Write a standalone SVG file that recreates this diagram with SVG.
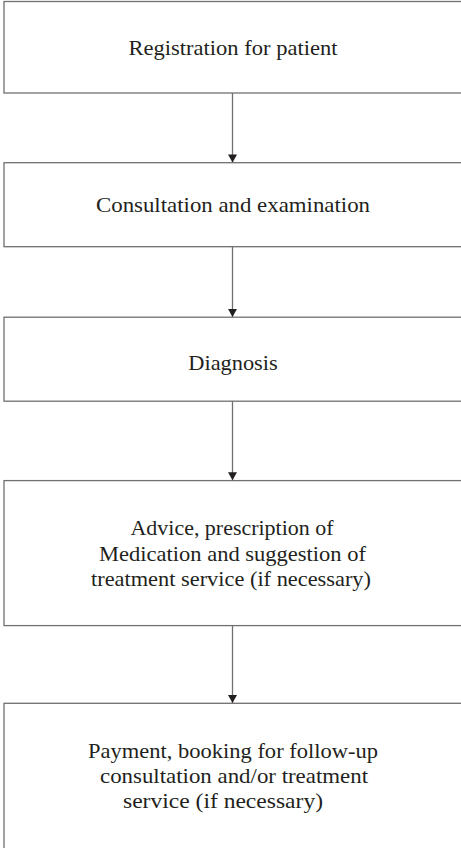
<svg xmlns="http://www.w3.org/2000/svg" width="461" height="848" viewBox="0 0 461 848">
  <style>
    .box { fill: #ffffff; stroke: #707070; stroke-width: 1.3; }
    .lbl { font-family: "Liberation Serif", "Times New Roman", serif; font-size: 21px; fill: #231f20; text-anchor: middle; }
    .conn { stroke: #707070; stroke-width: 1.3; fill: none; }
  </style>
  <defs>
    <marker id="arr" markerUnits="userSpaceOnUse" markerWidth="10" markerHeight="10" refX="8" refY="4.5" orient="auto">
      <path d="M0,0 L8,4.5 L0,9 Z" fill="#231f20"/>
    </marker>
  </defs>
  <rect width="461" height="848" fill="#ffffff"/>
  <g id="n1">
    <rect class="box" x="4" y="1.5" width="470" height="91.5"/>
    <text class="lbl" x="233" y="54.5" textLength="209" lengthAdjust="spacingAndGlyphs">Registration for patient</text>
  </g>
  <g id="n2">
    <rect class="box" x="4" y="162.7" width="470" height="84"/>
    <text class="lbl" x="233" y="212" textLength="274" lengthAdjust="spacingAndGlyphs">Consultation and examination</text>
  </g>
  <g id="n3">
    <rect class="box" x="4" y="317.2" width="470" height="84"/>
    <text class="lbl" x="233" y="370" textLength="89.5" lengthAdjust="spacingAndGlyphs">Diagnosis</text>
  </g>
  <g id="n4">
    <rect class="box" x="4" y="480.6" width="470" height="145"/>
    <text class="lbl" x="232" y="535" textLength="203" lengthAdjust="spacingAndGlyphs">Advice, prescription of</text>
    <text class="lbl" x="232.5" y="560.5" textLength="267" lengthAdjust="spacingAndGlyphs">Medication and suggestion of</text>
    <text class="lbl" x="231" y="585.5" textLength="280" lengthAdjust="spacingAndGlyphs">treatment service (if necessary)</text>
  </g>
  <g id="n5">
    <rect class="box" x="4" y="703.3" width="470" height="160"/>
    <text class="lbl" x="233" y="758.3" textLength="290" lengthAdjust="spacingAndGlyphs">Payment, booking for follow-up</text>
    <text class="lbl" x="234" y="783.3" textLength="268" lengthAdjust="spacingAndGlyphs">consultation and/or treatment</text>
    <text class="lbl" x="223" y="808.3" textLength="200" lengthAdjust="spacingAndGlyphs">service (if necessary)</text>
  </g>
  <g id="connectors">
    <line class="conn" x1="232.5" y1="93" x2="232.5" y2="162.4" marker-end="url(#arr)"/>
    <line class="conn" x1="232.5" y1="246.7" x2="232.5" y2="316.9" marker-end="url(#arr)"/>
    <line class="conn" x1="232.5" y1="401.2" x2="232.5" y2="480.3" marker-end="url(#arr)"/>
    <line class="conn" x1="232.5" y1="625.6" x2="232.5" y2="703" marker-end="url(#arr)"/>
  </g>
</svg>
